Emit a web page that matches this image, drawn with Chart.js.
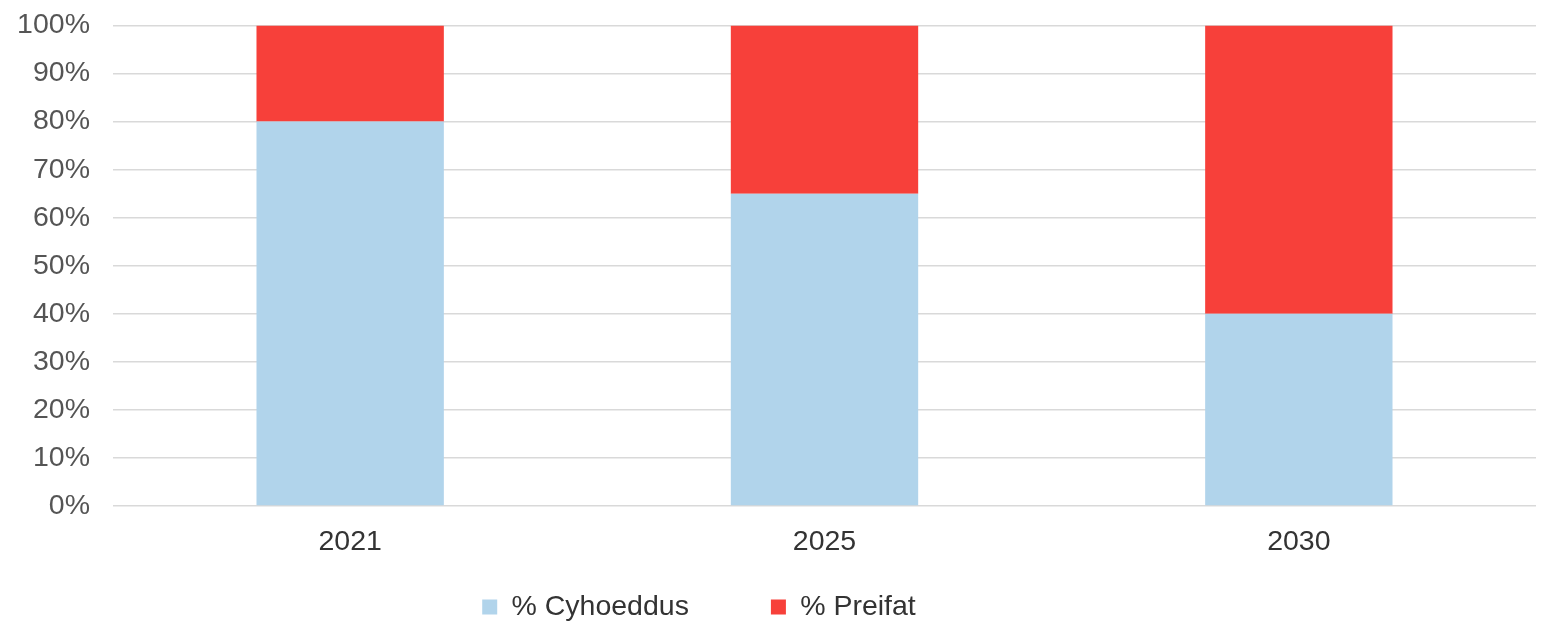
<!DOCTYPE html>
<html>
<head>
<meta charset="utf-8">
<script src="https://cdn.jsdelivr.net/npm/chart.js@4/dist/chart.umd.min.js"></script>
<style>
html,body{margin:0;padding:0;background:#fff;}
#wrap{width:1549px;height:625px;}
</style>
</head>
<body>
<div id="wrap"><canvas id="c" width="1549" height="625"></canvas></div>
<script>
const categories = ["2021", "2025", "2030"];
const seriesNames = ["% Cyhoeddus", "% Preifat"];
const cyhoeddus = [80, 65, 40];
const preifat = [20, 35, 60];
const yTicks = [0, 10, 20, 30, 40, 50, 60, 70, 80, 90, 100];

const FONT = "'Liberation Sans', Arial, sans-serif";
const FS = 28.5;
const LEGEND_PAD = 82;

const legendShift = {
  id: 'legendShift',
  afterLayout(chart) {
    const lg = chart.legend;
    if (!lg) return;
    lg.top = 607 - LEGEND_PAD - FS / 2;
    lg.bottom = chart.height;
    lg.height = lg.bottom - lg.top;
    lg.right = lg.right - 138;
    lg.width = lg.right - lg.left;
  }
};

new Chart(document.getElementById('c'), {
  type: 'bar',
  data: {
    labels: categories,
    datasets: [
      { label: seriesNames[0], data: cyhoeddus, backgroundColor: '#B1D4EB', borderWidth: 0 },
      { label: seriesNames[1], data: preifat, backgroundColor: '#F7403A', borderWidth: 0 }
    ]
  },
  plugins: [legendShift],
  options: {
    responsive: false,
    animation: false,
    devicePixelRatio: 1,
    layout: { padding: { top: 25.5, right: 13, left: 0, bottom: 0 } },
    datasets: { bar: { categoryPercentage: 1, barPercentage: 0.395 } },
    scales: {
      x: {
        stacked: true,
        afterFit: (s) => { s.height = 56; s.paddingLeft = 0; s.paddingRight = 0; },
        grid: { display: false, drawTicks: false },
        border: { display: false },
        ticks: { color: '#333333', font: { family: FONT, size: FS }, padding: 19 }
      },
      y: {
        stacked: true,
        min: 0, max: 100,
        afterFit: (s) => { s.width = 113; s.paddingTop = 0; s.paddingBottom = 0; },
        afterBuildTicks: (s) => { s.ticks = yTicks.map(v => ({ value: v })); },
        grid: { color: '#D9D9D9', lineWidth: 1.5, drawTicks: false },
        border: { display: false },
        ticks: { color: '#555555', font: { family: FONT, size: FS }, padding: 23, callback: (v) => v + '%' }
      }
    },
    plugins: {
      tooltip: { enabled: false },
      legend: {
        position: 'bottom',
        maxHeight: 63,
        labels: { color: '#333333', font: { family: FONT, size: FS }, boxWidth: 15, boxHeight: 15, padding: LEGEND_PAD }
      }
    }
  }
});
</script>
</body>
</html>
